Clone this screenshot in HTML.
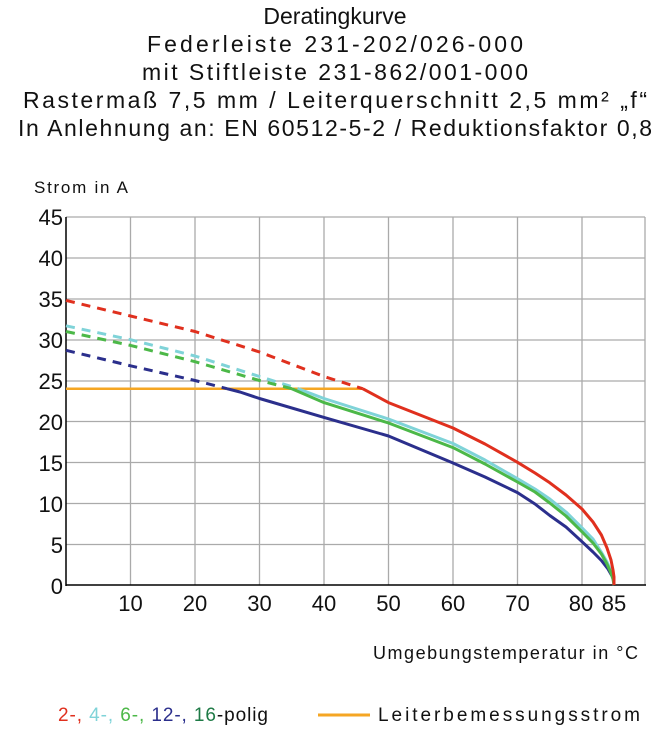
<!DOCTYPE html>
<html><head><meta charset="utf-8"><style>
body{margin:0;background:#fff;width:670px;height:752px;overflow:hidden}
svg{display:block}
text{font-family:"Liberation Sans",sans-serif;fill:#111}
</style></head><body>
<svg width="670" height="752" viewBox="0 0 670 752">
<g font-size="23" text-anchor="middle">
<text x="335" y="24">Deratingkurve</text>
<text x="335" y="52" textLength="376" lengthAdjust="spacing">Federleiste 231-202/026-000</text>
<text x="335" y="80" textLength="386" lengthAdjust="spacing">mit Stiftleiste 231-862/001-000</text>
<text x="335" y="108" textLength="624" lengthAdjust="spacing">Rastermaß 7,5 mm / Leiterquerschnitt 2,5 mm² „f“</text>
<text x="335" y="136" textLength="634" lengthAdjust="spacing">In Anlehnung an: EN 60512-5-2 / Reduktionsfaktor 0,8</text>
</g>
<text x="34" y="193" font-size="17" textLength="94" lengthAdjust="spacing">Strom in A</text>
<g stroke="#aaa" stroke-width="1.3">
<line x1="130.5" y1="217" x2="130.5" y2="585"/><line x1="195" y1="217" x2="195" y2="585"/>
<line x1="259.5" y1="217" x2="259.5" y2="585"/><line x1="324" y1="217" x2="324" y2="585"/>
<line x1="388.5" y1="217" x2="388.5" y2="585"/><line x1="453" y1="217" x2="453" y2="585"/>
<line x1="517.5" y1="217" x2="517.5" y2="585"/><line x1="582" y1="217" x2="582" y2="585"/>
<line x1="645" y1="217" x2="645" y2="585"/>
<line x1="66" y1="217" x2="645" y2="217"/><line x1="66" y1="258" x2="645" y2="258"/>
<line x1="66" y1="299" x2="645" y2="299"/><line x1="66" y1="340" x2="645" y2="340"/>
<line x1="66" y1="381" x2="645" y2="381"/><line x1="66" y1="421.5" x2="645" y2="421.5"/>
<line x1="66" y1="462.5" x2="645" y2="462.5"/><line x1="66" y1="503.5" x2="645" y2="503.5"/>
<line x1="66" y1="544.5" x2="645" y2="544.5"/>
</g>
<g stroke="#000" stroke-width="1.5"><line x1="66" y1="217" x2="66" y2="586"/><line x1="66" y1="585" x2="646" y2="585"/></g>
<g fill="none" stroke-width="3" stroke-linejoin="round">
<polyline stroke="#f5a623" stroke-width="2.5" points="66,388.7 362.7,388.7"/>
<polyline stroke="#e0301e" stroke-dasharray="9,7" points="66,300.4 130.5,316 195,331.5 259.5,352 324,376.5 362.7,388.7"/>
<polyline stroke="#7fd3d8" stroke-dasharray="9,7" points="66,325.8 130.5,339.7 195,356 259.5,376.5 298.2,388.7"/>
<polyline stroke="#4cb848" stroke-dasharray="9,7" points="66,331.5 130.5,345.4 195,361.7 259.5,380.5 291.8,388.7"/>
<polyline stroke="#2b2f8c" stroke-dasharray="9,7" points="66,350.3 130.5,365.8 195,380.5 227,388.7"/>
<polyline stroke="#2b2f8c" points="227,388.7 240,392 259.5,398.5 324,417.4 388.5,436 453,463 485,477 517.5,492.6 535,504 549.8,515.5 566,527 582,541.7 593,552 601.4,560.5 608,569 612,576 614,581 614,585"/>
<polyline stroke="#7fd3d8" points="298,388.7 324,398.5 388.5,419 453,443.5 485,460 517.5,478.7 535,489 549.8,499 566,512 582,527.8 593,539 601.4,552.3 607,562 611,571 613,578 614,585"/>
<polyline stroke="#4cb848" points="291.8,388.7 324,402.6 388.5,423 453,447.6 485,464 517.5,482 535,492 549.8,503 566,516 582,531.8 593,543 601.4,554 607,564 611,573 613,579 614,585"/>
<polyline stroke="#e0301e" points="362.7,388.7 388.5,402.6 420,415 453,428 485,444 517.5,462.3 535,473 549.8,482.8 566,495 582,509 593,522 601.4,535 607,548 611,560 613,570 614,577 614,585"/>
</g>
<g font-size="22" text-anchor="end">
<text x="63" y="225">45</text><text x="63" y="266">40</text><text x="63" y="307">35</text>
<text x="63" y="348">30</text><text x="63" y="389">25</text><text x="63" y="430">20</text>
<text x="63" y="471">15</text><text x="63" y="512">10</text><text x="63" y="553">5</text>
<text x="63" y="594">0</text>
</g>
<g font-size="22" text-anchor="middle">
<text x="130.5" y="611">10</text><text x="195" y="611">20</text><text x="259.5" y="611">30</text>
<text x="324" y="611">40</text><text x="388.5" y="611">50</text><text x="453" y="611">60</text>
<text x="517.5" y="611">70</text><text x="581" y="611">80</text><text x="614" y="611">85</text>
</g>
<text x="373" y="659" font-size="18" textLength="265" lengthAdjust="spacing">Umgebungstemperatur in °C</text>
<text x="58" y="721" font-size="19" textLength="210" lengthAdjust="spacing"><tspan style="fill:#e0301e">2-, </tspan><tspan style="fill:#7fd3d8">4-, </tspan><tspan style="fill:#4cb848">6-, </tspan><tspan style="fill:#2b2f8c">12-, </tspan><tspan style="fill:#1e7a46">16</tspan>-polig</text>
<line x1="318" y1="715" x2="370" y2="715" stroke="#f5a623" stroke-width="3"/>
<text x="378" y="721" font-size="19" textLength="262" lengthAdjust="spacing">Leiterbemessungsstrom</text>
</svg>
</body></html>
